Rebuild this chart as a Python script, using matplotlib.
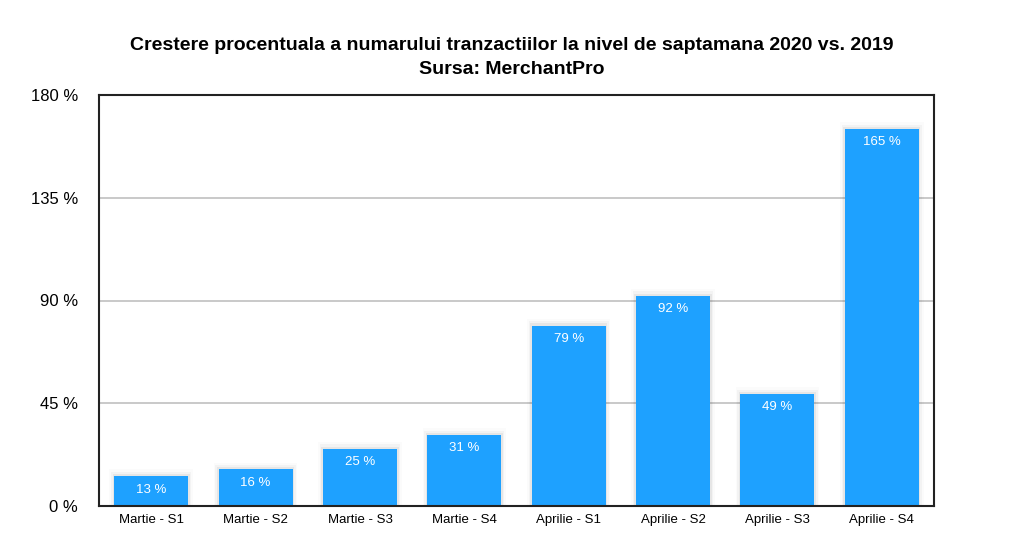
import matplotlib
matplotlib.use("Agg")
import matplotlib.pyplot as plt
from matplotlib.ticker import FixedLocator

categories = ["Martie - S1", "Martie - S2", "Martie - S3", "Martie - S4",
              "Aprilie - S1", "Aprilie - S2", "Aprilie - S3", "Aprilie - S4"]
values = [13, 16, 25, 31, 79, 92, 49, 165]
yticks = [0, 45, 90, 135, 180]

plt.rcParams['font.family'] = ['Liberation Sans', 'DejaVu Sans']

fig = plt.figure(figsize=(10.24, 5.58), dpi=100)
ax = fig.add_axes([99/1024, 1-506/558, (934-99)/1024, (506-95)/558])

color = "#1EA1FF"
x = list(range(len(categories)))
bars = ax.bar(x, values, width=0.71, color=color, zorder=3)
# subtle shadow
for xi, v in zip(x, values):
    for k, a in enumerate([0.05, 0.03, 0.015]):
        ax.bar(xi, v + 1.0*(k+1), width=0.71 + 0.03*(k+1), color="black", alpha=a, zorder=2, linewidth=0)

for b, v in zip(bars, values):
    ax.annotate(f"{v} %", (b.get_x() + b.get_width()/2, v), xytext=(0, -9.5),
                textcoords="offset points", ha="center", va="center",
                color="white", fontsize=9.5, zorder=4)

ax.set_xlim(-0.5, len(categories) - 0.5)
ax.set_ylim(0, 180)
ax.yaxis.set_major_locator(FixedLocator(yticks))
ax.set_yticklabels([f"{t} %" for t in yticks], fontsize=12)
ax.set_xticks(x)
ax.set_xticklabels(categories, fontsize=9.5)
ax.tick_params(axis="both", length=0)
ax.tick_params(axis="y", pad=15)
ax.tick_params(axis="x", pad=6)
for t in yticks[1:-1]:
    ax.axhline(t, color="#c0c0c0", linewidth=1.2, zorder=1)
for s in ax.spines.values():
    s.set_linewidth(1.5)
    s.set_color("#222222")
ax.spines["bottom"].set_zorder(5)

fig.text(0.5, 1-45/558, "Crestere procentuala a numarului tranzactiilor la nivel de saptamana 2020 vs. 2019",
         ha="center", va="center", fontsize=14, fontweight="bold")
fig.text(0.5, 1-69/558, "Sursa: MerchantPro", ha="center", va="center", fontsize=14, fontweight="bold")

fig.savefig("out.png", dpi=100)
